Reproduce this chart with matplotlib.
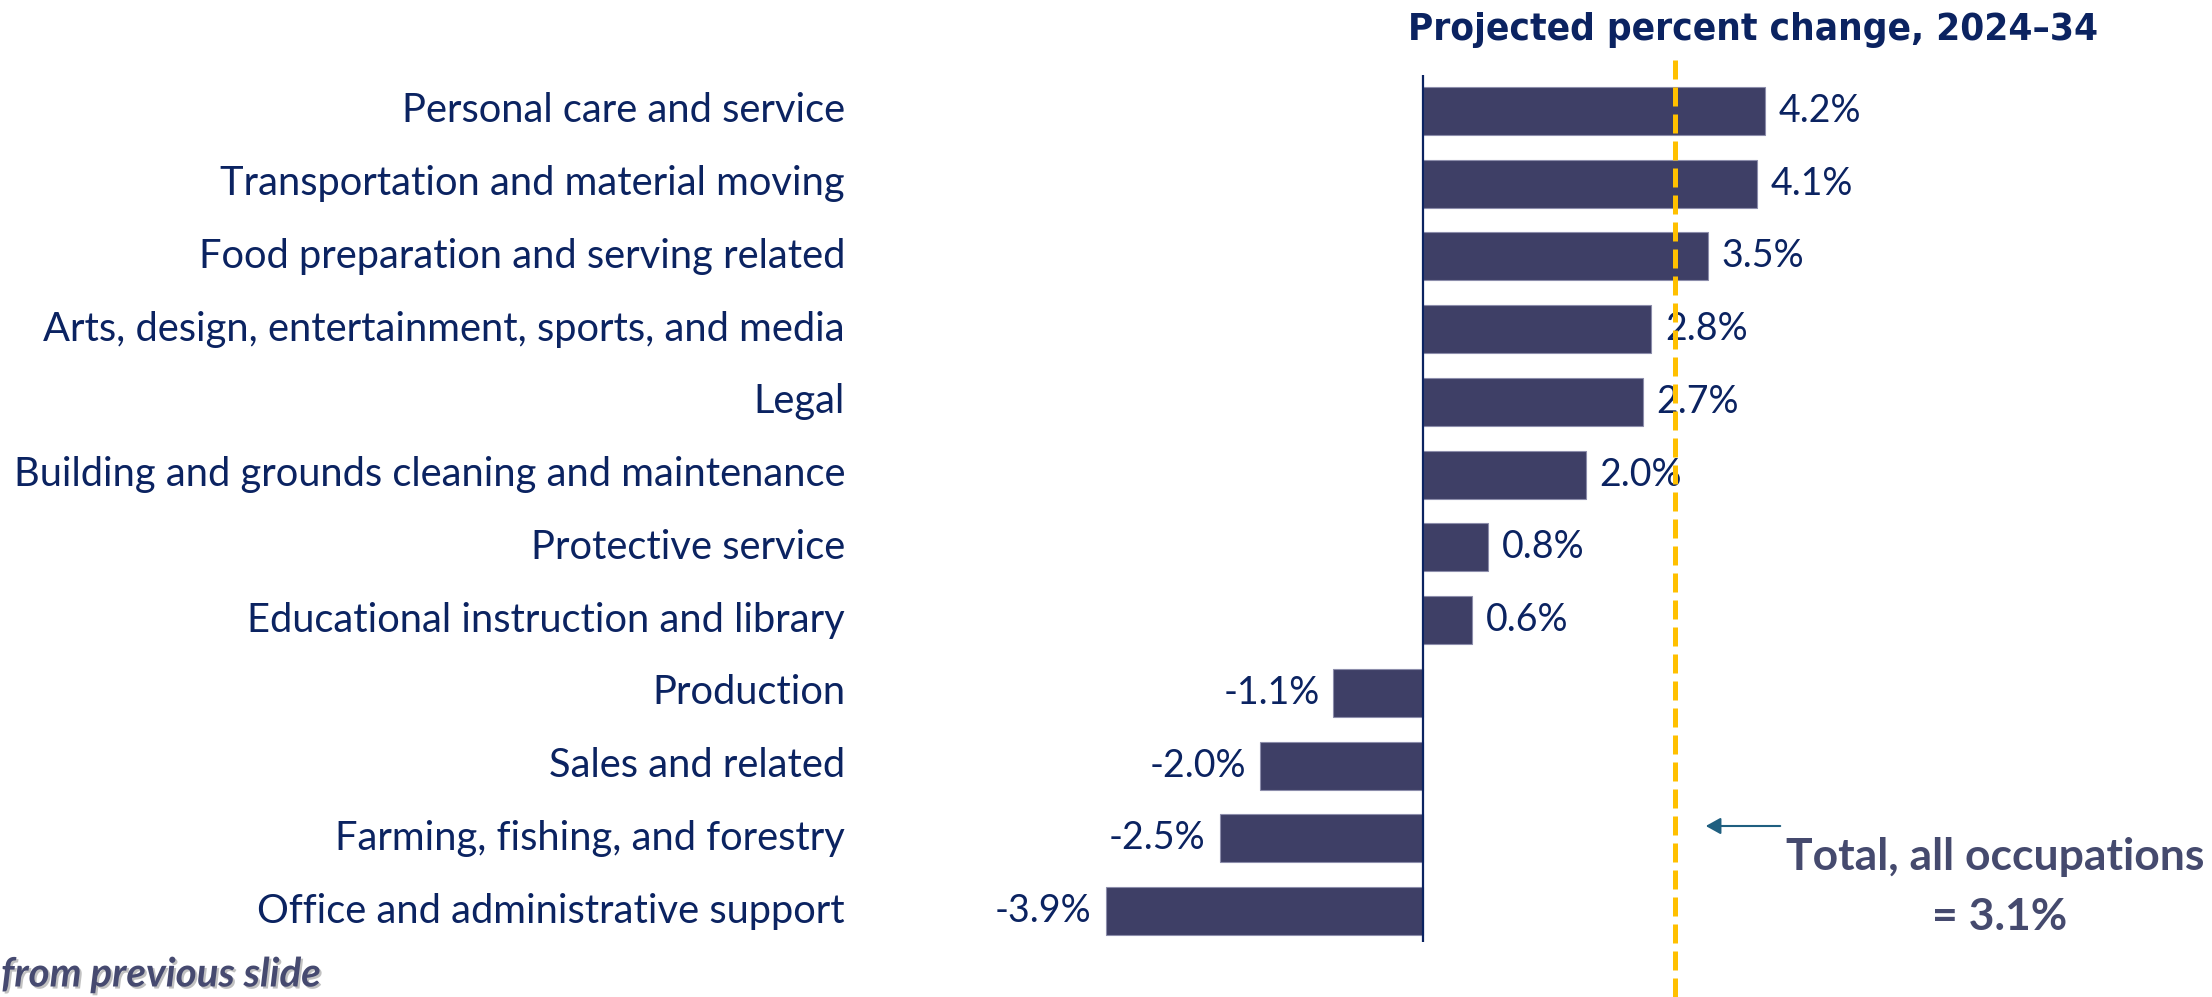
import numpy as np
import matplotlib
matplotlib.use("Agg")
import matplotlib.pyplot as plt
import matplotlib.patheffects as pe
from matplotlib.transforms import blended_transform_factory

categories = [
    "Personal care and service",
    "Transportation and material moving",
    "Food preparation and serving related",
    "Arts, design, entertainment, sports, and media",
    "Legal",
    "Building and grounds cleaning and maintenance",
    "Protective service",
    "Educational instruction and library",
    "Production",
    "Sales and related",
    "Farming, fishing, and forestry",
    "Office and administrative support",
]
pct_change = [4.2, 4.1, 3.5, 2.8, 2.7, 2.0, 0.8, 0.6, -1.1, -2.0, -2.5, -3.9]
total_change = 3.1

navy = "#0b2361"
bar_color = "#3e3f66"
note_color = "#454a6e"

W, H = 2212, 997
fig = plt.figure(figsize=(W / 100, H / 100), dpi=100)
fig.patch.set_facecolor("white")

# axes placed in pixel terms: zero line at x=1423, ~81.4 px per percent
x0_px, ppu = 1423, 81.4
ax_left, ax_right = 1000, 2212
ax_top, ax_bot = 75, 942
ax = fig.add_axes([ax_left / W, 1 - ax_bot / H, (ax_right - ax_left) / W, (ax_bot - ax_top) / H])
ax.set_xlim((ax_left - x0_px) / ppu, (ax_right - x0_px) / ppu)
pitch = 72.73
ax.set_ylim((ax_bot - 111) / pitch, (ax_top - 111) / pitch)
ax.axis("off")

y = np.arange(len(categories))
ax.barh(y, pct_change, height=0.66, color=bar_color, edgecolor="#8c8dab", linewidth=0.8, zorder=2)
ax.axvline(0, color=navy, lw=1.6, zorder=3)

font = ["Lato", "DejaVu Sans"]
for yi, v in zip(y, pct_change):
    if v >= 0:
        ax.text(v + 0.17, yi, f"{v:.1f}%", ha="left", va="center", fontsize=27,
                color=navy, family=font, zorder=4)
    else:
        ax.text(v - 0.17, yi, f"{v:.1f}%", ha="right", va="center", fontsize=27,
                color=navy, family=font, zorder=4)

# category labels, right aligned at a fixed figure x
tr = blended_transform_factory(fig.transFigure, ax.transData)
for yi, name in zip(y, categories):
    ax.text(845 / W, yi, name, transform=tr, ha="right", va="center", fontsize=28.7,
            color=navy, family=font, clip_on=False)

# dashed total line, running past the axes top and bottom
span = ax_bot - ax_top
ax.axvline(total_change, ymin=(ax_bot - H) / span, ymax=(ax_bot - 60) / span,
           color="#ffc000", lw=3.6, dashes=(3.8, 1.6), clip_on=False, zorder=5)

fig.text(1408 / W, 1 - 30 / H, "Projected percent change, 2024\u201334", ha="left", va="center",
         fontsize=27.7, fontweight="bold", fontstretch="condensed", color=navy,
         family="DejaVu Sans")

fig.text(1995 / W, 1 - 857 / H, "Total, all occupations", ha="center", va="center",
         fontsize=32, fontweight="bold", color=note_color, family=font)
fig.text(2000 / W, 1 - 917 / H, "= " + f"{total_change:.1f}%", ha="center", va="center",
         fontsize=32, fontweight="bold", color=note_color, family=font)
fig.add_artist(matplotlib.patches.FancyArrowPatch(
    (1783 / W, 1 - 826 / H), (1703 / W, 1 - 826 / H), transform=fig.transFigure,
    arrowstyle="-|>,head_length=9,head_width=5", color="#1f5f80", lw=1.5))

fig.text(1 / W, 1 - 975 / H, "from previous slide", ha="left", va="center",
         fontsize=29, fontweight="bold", style="italic", color="#464a70", family=font,
         path_effects=[pe.withSimplePatchShadow(offset=(1.5, -1.5), shadow_rgbFace="#999999", alpha=0.6)])

fig.savefig("out.png", dpi=100, facecolor="white")
